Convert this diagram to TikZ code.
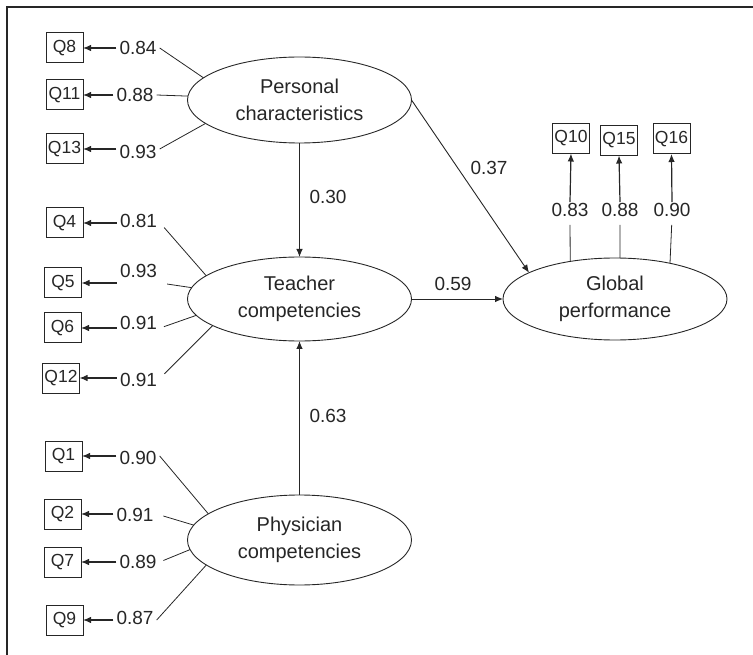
\documentclass[tikz,border=0pt]{standalone}
\usepackage{fontspec}
\setmainfont{Liberation Sans}
\usetikzlibrary{arrows.meta,shapes.geometric}
\definecolor{ink}{HTML}{262626}
\begin{document}
\begin{tikzpicture}[x=1pt,y=-1pt,
  latent/.style={ellipse,draw=ink,line width=0.9pt,minimum width=224pt,inner sep=0pt,outer sep=0pt,align=center,text=ink,font=\fontsize{20}{27}\selectfont},
  obs/.style={rectangle,draw=ink,line width=1pt,minimum width=37pt,minimum height=30pt,inner sep=0pt,outer sep=0pt,text=ink,font=\fontsize{17.5}{19}\selectfont},
  coef/.style={inner xsep=3pt,inner ysep=1pt,text=ink,font=\fontsize{19}{21}\selectfont},
  link/.style={draw=ink,line width=0.8pt},
  arr/.style={draw=ink,line width=1.2pt,-{Latex[length=8pt,width=6.5pt]}},
  path/.style={draw=ink,line width=0.9pt,-{Latex[length=8pt,width=6.5pt]}},
  frameline/.style={draw=ink,line width=1.4pt}
]
\useasboundingbox (0,0) rectangle (753,655);
% frame
\coordinate (fbl) at (7,655);
\coordinate (ftl) at (7,7);
\coordinate (ftr) at (753,7);
\draw[frameline] (fbl) -- (ftl) -- (ftr);

% latent variables
\node[latent,minimum height=86pt] (pc) at (299.5,100) {Personal\\characteristics};
\node[latent,minimum height=84pt] (tc) at (299.5,299) {Teacher\\competencies};
\node[latent,minimum height=90pt] (phc) at (299.5,540) {Physician\\competencies};
\node[latent,minimum height=82pt] (gp) at (615,299) {Global\\performance};

% observed
\node[obs] (q8) at (64.5,48) {Q8};
\node[obs] (q11) at (64.5,95) {Q11};
\node[obs] (q13) at (64.5,149) {Q13};
\node[obs] (q4) at (64.5,223) {Q4};
\node[obs] (q5) at (63,283) {Q5};
\node[obs] (q6) at (62.5,328) {Q6};
\node[obs] (q12) at (61,378) {Q12};
\node[obs] (q1) at (63.5,456) {Q1};
\node[obs] (q2) at (62.5,514) {Q2};
\node[obs] (q7) at (62.5,562) {Q7};
\node[obs] (q9) at (64.5,620) {Q9};
\node[obs] (q10) at (571,138.5) {Q10};
\node[obs] (q15) at (619,140.5) {Q15};
\node[obs] (q16) at (671.5,139) {Q16};

% loadings labels
\node[coef] (l8) at (138,48) {0.84};
\node[coef] (l11) at (135,95) {0.88};
\node[coef] (l13) at (138,152) {0.93};
\node[coef] (l4) at (138.5,221) {0.81};
\node[coef] (l5) at (138.5,271) {0.93};
\node[coef] (l6) at (138.5,323) {0.91};
\node[coef] (l12) at (138.5,380) {0.91};
\node[coef] (l1) at (138,458) {0.90};
\node[coef] (l2) at (135,515) {0.91};
\node[coef] (l7) at (138,562) {0.89};
\node[coef] (l9) at (135,618) {0.87};
\node[coef] (l10) at (570,210) {0.83};
\node[coef] (l15) at (620,210) {0.88};
\node[coef] (l16) at (672,210) {0.90};

% Personal characteristics indicators
\draw[link] (pc.167) -- (l8.east |- q8);
\draw[arr] (l8.west |- q8) -- (q8.east);
\draw[link] (pc.178) -- (l11.east |- q11);
\draw[arr] (l11.west |- q11) -- (q11.east);
\draw[link] (pc.194) -- (l13.east |- q13);
\draw[arr] (l13.west |- q13) -- (q13.east);

% Teacher competencies indicators
\draw[link,shorten >=6pt] (tc.166.5) -- (l4.east |- q4);
\draw[arr] (l4.west |- q4) -- (q4.east);
\draw[link,shorten >=7pt] (tc.174) -- (l5.east |- q5);
\draw[arr] (l5.west |- q5) -- (q5.east);
\draw[link,shorten >=4pt] (tc.189) -- (l6.east |- q6);
\draw[arr] (l6.west |- q6) -- (q6.east);
\draw[link,shorten >=6pt] (tc.197) -- (l12.east |- q12);
\draw[arr] (l12.west |- q12) -- (q12.east);

% Physician competencies indicators
\draw[link] (phc.164) -- (l1.east |- q1);
\draw[arr] (l1.west |- q1) -- (q1.east);
\draw[link,shorten >=7pt] (phc.172.5) -- (l2.east |- q2);
\draw[arr] (l2.west |- q2) -- (q2.east);
\draw[link,shorten >=4pt] (phc.185.8) -- (l7.east |- q7);
\draw[arr] (l7.west |- q7) -- (q7.east);
\draw[link] (phc.195.6) -- (l9.east |- q9);
\draw[arr] (l9.west |- q9) -- (q9.east);

% Global performance indicators
\draw[link,shorten >=7pt] (gp.140.2) -- (l10.south);
\draw[arr] (l10.north) -- (q10.south);
\draw[link,shorten >=7pt] (gp.83) -- (l15.south);
\draw[arr] (l15.north) -- (q15.south);
\draw[link,shorten >=7pt] (gp.33) -- (l16.south);
\draw[arr] (l16.north) -- (q16.south);

% structural paths
\draw[path] (pc.south) -- (tc.north);
\node[coef] (p30) at (328,197) {0.30};
\draw[path] (phc.north) -- (tc.south);
\node[coef] (p63) at (328,416) {0.63};
\draw[path] (tc.east) -- (gp.west);
\node[coef] (p59) at (453,284) {0.59};
\draw[path] (pc.east) -- (gp.163);
\node[coef] (p37) at (489,168) {0.37};
\end{tikzpicture}
\end{document}
